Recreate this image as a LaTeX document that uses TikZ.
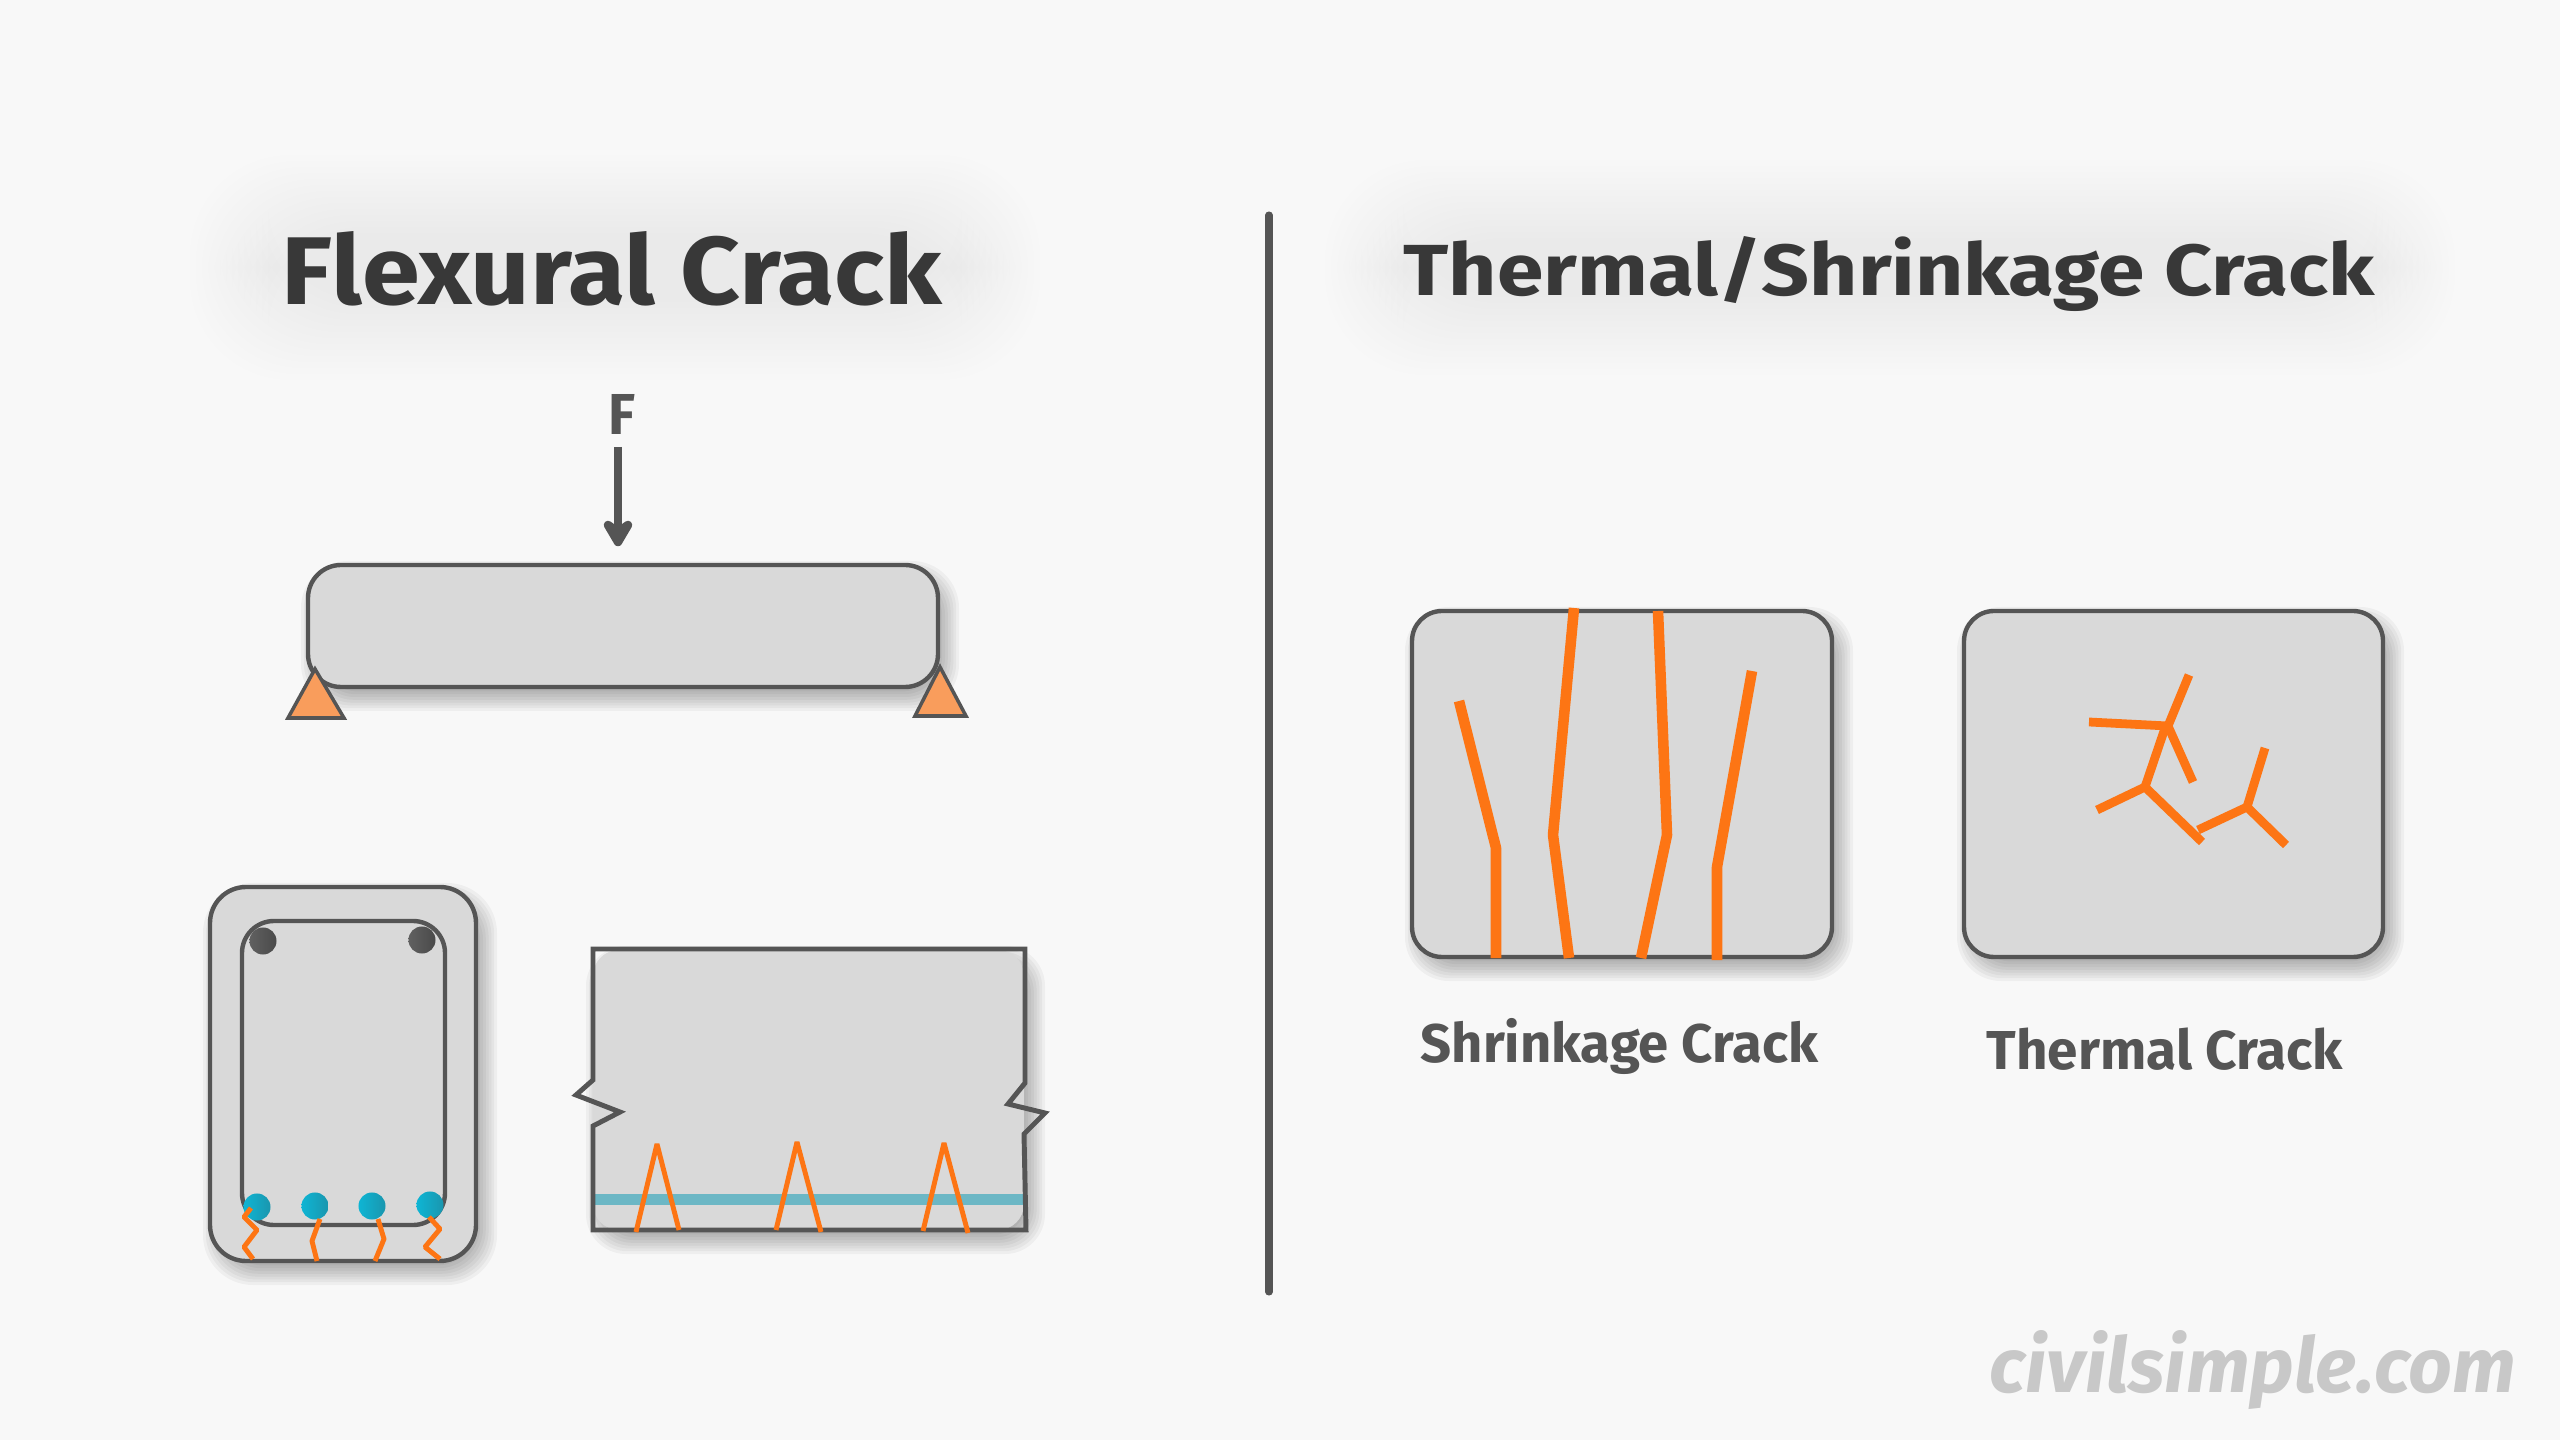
\documentclass[tikz,border=0pt]{standalone}
\usepackage{fontspec}
\usepackage{graphicx}
\setmainfont{Fira Sans}
\definecolor{pagebg}{HTML}{F8F8F8}
\definecolor{concrete}{HTML}{D9D9D9}
\definecolor{edge}{HTML}{555555}
\definecolor{headline}{HTML}{383838}
\definecolor{crack}{HTML}{FD7514}
\definecolor{support}{HTML}{F99D5C}
\definecolor{rebarbar}{HTML}{6CB7C5}
\definecolor{rebarlight}{HTML}{0EB5D4}
\definecolor{rebardark}{HTML}{1A96AE}
\definecolor{rebargrey}{HTML}{606060}
\definecolor{rebargreyd}{HTML}{4A4A4A}
\definecolor{mark}{HTML}{C8C8C8}
\tikzset{
  x=0.01cm, y=-0.01cm,
  outline/.style={draw=edge, line width=1.25pt, fill=concrete},
  crackline/.style={draw=crack, line width=#1, line join=bevel},
  crackline/.default=1.4pt,
  steelbar/.style={circle, inner sep=0pt, minimum size=0.27cm, right color=#1},
  caption/.style={inner sep=0pt, anchor=base west, font=\bfseries, text=edge},
}
% soft drop shadow built from stacked translucent rounded boxes
\newcommand{\softshadow}[5]{%
  \foreach \k in {0,...,9}{
    \pgfmathsetlengthmacro{\cornerrad}{(#5+14-1.4*\k)*0.01cm}
    \fill[black, opacity=0.04, rounded corners=\cornerrad]
      (#1+7-14+2.8*\k, #2+10-14+2.8*\k) rectangle (#3+7+14-2.8*\k, #4+10+14-2.8*\k);
  }}
% wide pale glow behind the two headlines
\newcommand{\softglow}[4]{%
  \foreach \k in {0,...,13}{
    \fill[black, opacity=0.0048, rounded corners=1cm]
      (#1+6*\k, #2+6*\k) rectangle (#3-6*\k, #4-6*\k);
  }}
\begin{document}
\begin{tikzpicture}
\useasboundingbox (0,0) rectangle (2560,1440);
\fill[pagebg] (0,0) rectangle (2560,1440);

% headlines
\softglow{190}{155}{1040}{380}
\softglow{1325}{160}{2455}{375}
\node[caption, text=headline] (flexTitle) at (281,305) {\resizebox{6.60cm}{0.73cm}{Flexural Crack}};
\node[caption, text=headline] (thermTitle) at (1403,296) {\resizebox{9.70cm}{0.59cm}{Thermal/Shrinkage Crack}};

% divider between the two panels
\draw[edge, line width=2pt, line cap=round] (1269,215) -- (1269,1292);

% loaded beam on two supports
\node[caption] (loadF) at (608,435) {\resizebox{0.27cm}{0.40cm}{F}};
\softshadow{308}{565}{938}{687}{33}
\draw[outline, rounded corners=0.33cm] (308,565) rectangle (938,687);
\draw[draw=edge, line width=1pt, fill=support, line join=miter] (315,669) -- (344,718) -- (288,718) -- cycle;
\draw[draw=edge, line width=1pt, fill=support, line join=miter] (940,667) -- (966,716) -- (915,716) -- cycle;
\coordinate (loadTop) at (618,447);
\coordinate (loadTip) at (618,542);
\draw[edge, line width=2pt] (loadTop) -- (loadTip);
\draw[edge, line width=2.4pt, line cap=round, line join=round, fill=edge] (608,525) -- (loadTip) -- (628,525) -- (618,532) -- cycle;

% beam cross-section
\softshadow{210}{887}{476}{1261}{36}
\draw[outline, rounded corners=0.36cm] (210,887) rectangle (476,1261);
\draw[draw=edge, line width=1.25pt, rounded corners=0.32cm] (242,921) rectangle (445,1225);
\node[steelbar=rebargreyd, left color=rebargrey] (topL) at (263,941) {};
\node[steelbar=rebargreyd, left color=rebargrey] (topR) at (422,940) {};
\node[steelbar=rebardark, left color=rebarlight] (botA) at (257,1207) {};
\node[steelbar=rebardark, left color=rebarlight] (botB) at (315,1206) {};
\node[steelbar=rebardark, left color=rebarlight] (botC) at (372,1206) {};
\node[steelbar=rebardark, left color=rebarlight] (botD) at (430,1205) {};
\draw[crackline] (251,1208) -- (244,1217) -- (257,1230) -- (244,1247) -- (253,1259);
\draw[crackline] (320,1219) -- (312,1241) -- (317,1261);
\draw[crackline] (378,1219) -- (384,1239) -- (375,1261);
\draw[crackline] (429,1217) -- (440,1229) -- (425,1247) -- (440,1259);

% beam elevation with broken ends
\softshadow{593}{950}{1024}{1230}{26}
\fill[concrete, rounded corners=0.26cm] (593,950) rectangle (1024,1230);
\fill[rebarbar] (592,1194) rectangle (1023,1205);
\draw[edge, line width=1.4pt, line join=miter]
  (593,1230) -- (593,1126) -- (620,1112) -- (576,1095) -- (593,1080) -- (593,949)
  -- (1025,949) -- (1025,1083) -- (1008,1104) -- (1045,1113) -- (1024,1134) -- (1026,1230) -- cycle;
\draw[crackline=1.4pt] (636,1232) -- (657,1144) -- (679,1230);
\draw[crackline=1.4pt] (776,1230) -- (797,1142) -- (821,1232);
\draw[crackline=1.4pt] (923,1231) -- (944,1143) -- (968,1233);

% shrinkage panel
\softshadow{1412}{611}{1832}{957}{30}
\draw[outline, rounded corners=0.30cm] (1412,611) rectangle (1832,957);
\draw[crackline=3pt] (1459,701) -- (1496,848) -- (1496,958);
\draw[crackline=3pt] (1574,608) -- (1553,835) -- (1569,958);
\draw[crackline=3pt] (1658,611) -- (1667,835) -- (1641,958);
\draw[crackline=3pt] (1752,671) -- (1717,867) -- (1717,960);

% thermal panel
\softshadow{1964}{611}{2383}{957}{30}
\draw[outline, rounded corners=0.30cm] (1964,611) rectangle (2383,957);
\draw[crackline=2.5pt] (2089,722) -- (2168,726);
\draw[crackline=2.5pt] (2189,675) -- (2168,726) -- (2193,782);
\draw[crackline=2.5pt] (2165,728) -- (2145,787);
\draw[crackline=2.5pt] (2097,810) -- (2145,787) -- (2202,842);
\draw[crackline=2.5pt] (2198,830) -- (2247,807) -- (2286,845);
\draw[crackline=2.5pt] (2265,748) -- (2247,807);

% panel captions and site mark
\node[caption] (shrinkCap) at (1420,1062) {\resizebox{3.97cm}{!}{Shrinkage Crack}};
\node[caption] (thermCap) at (1986,1069) {\resizebox{3.56cm}{!}{Thermal Crack}};
\node[caption, text=mark, font=\bfseries\itshape] (siteMark) at (1989,1392) {\resizebox{5.26cm}{!}{civilsimple.com}};
\end{tikzpicture}
\end{document}
